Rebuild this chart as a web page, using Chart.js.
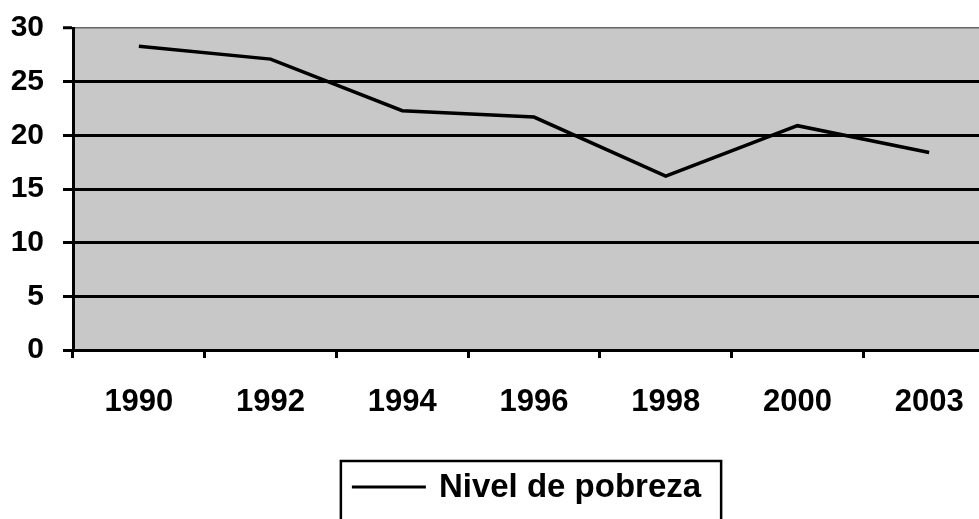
<!DOCTYPE html>
<html>
<head>
<meta charset="utf-8">
<script src="https://cdn.jsdelivr.net/npm/chart.js@4"></script>
<style>
  html, body { margin: 0; padding: 0; background: #fff; overflow: hidden; }
</style>
</head>
<body>
<canvas id="myChart" width="995" height="519"></canvas>
<script>
const years = ["1990", "1992", "1994", "1996", "1998", "2000", "2003"];
const pobreza = [28.3, 27.1, 22.3, 21.7, 16.2, 20.9, 18.4];
const seriesLabel = "Nivel de pobreza";

const FONT = "'Liberation Sans', Arial, sans-serif";

// gray plot background
const plotBg = {
  id: "plotBg",
  beforeDraw(chart) {
    const { ctx, chartArea: a } = chart;
    ctx.save();
    ctx.fillStyle = "#c8c8c8";
    ctx.fillRect(a.left, a.top, a.right - a.left, a.bottom - a.top);
    ctx.restore();
  },
};

// boxed legend like the original
const boxLegend = {
  id: "boxLegend",
  afterDraw(chart) {
    const { ctx } = chart;
    const ds = chart.data.datasets[0];
    ctx.save();
    ctx.font = "bold 33px " + FONT;
    const tw = ctx.measureText(ds.label).width;
    const sample = 74, gap = 13, padL = 11, padR = 20;
    const w = padL + sample + gap + tw + padR;
    const x = 531 - w / 2, y = 461;
    ctx.lineWidth = 2.5;
    ctx.strokeStyle = "#000";
    ctx.strokeRect(x, y, w, 80);
    ctx.lineWidth = 3;
    ctx.beginPath();
    ctx.moveTo(x + padL, 487);
    ctx.lineTo(x + padL + sample, 487);
    ctx.stroke();
    ctx.fillStyle = "#000";
    ctx.textBaseline = "middle";
    ctx.fillText(ds.label, x + padL + sample + gap, 488);
    ctx.restore();
  },
};

const ctx = document.getElementById("myChart").getContext("2d");
const myChart = new Chart(ctx, {
  type: "line",
  data: {
    labels: years,
    datasets: [
      {
        label: seriesLabel,
        data: pobreza,
        borderColor: "#000",
        borderWidth: 3.5,
        pointRadius: 0,
        tension: 0,
      },
    ],
  },
  options: {
    responsive: false,
    animation: false,
    layout: { padding: { top: 28, right: 0, left: 0, bottom: 0 } },
    plugins: {
      legend: { display: false },
      tooltip: { enabled: false },
    },
    scales: {
      x: {
        offset: true,
        afterFit: (s) => { s.height = 169; },
        grid: {
          offset: true,
          drawOnChartArea: false,
          drawTicks: true,
          tickLength: 8,
          tickWidth: 3,
          tickColor: "#000",
        },
        border: { color: "#000", width: 3 },
        ticks: {
          color: "#000",
          padding: 26,
          maxRotation: 0,
          font: { family: FONT, size: 31, weight: "bold" },
        },
      },
      y: {
        min: 0,
        max: 30,
        afterFit: (s) => { s.width = 73; s.paddingTop = 0; s.paddingBottom = 0; },
        grid: {
          color: (c) => (c.tick && c.tick.value === 30 ? "#666" : "#000"),
          lineWidth: (c) => (c.tick && c.tick.value === 30 ? 1.5 : 3),
          tickLength: 10,
          tickColor: "#000",
          tickWidth: 3,
        },
        border: { color: "#000", width: 3 },
        ticks: {
          stepSize: 5,
          color: "#000",
          padding: 19,
          font: { family: FONT, size: 30, weight: "bold" },
        },
      },
    },
  },
  plugins: [plotBg, boxLegend],
});
</script>
</body>
</html>
